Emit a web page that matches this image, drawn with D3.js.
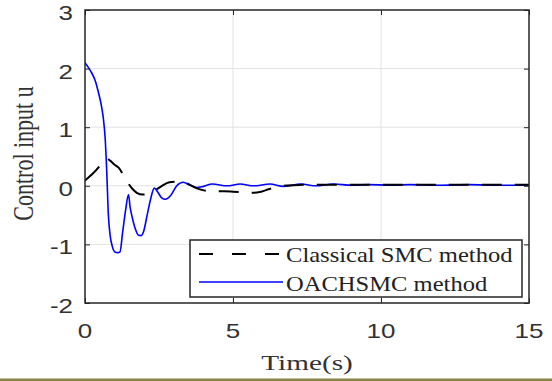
<!DOCTYPE html>
<html>
<head>
<meta charset="utf-8">
<script src="https://cdn.jsdelivr.net/npm/d3@7/dist/d3.min.js"></script>
<style>
  html, body { margin: 0; padding: 0; background: #fff; }
  svg { display: block; }
</style>
</head>
<body>
<svg id="chart" width="552" height="381"></svg>
<script>
// ---- data ----
const xTicks = [0, 5, 10, 15];
const yTicks = [-2, -1, 0, 1, 2, 3];
const seriesNames = ["Classical SMC method", "OACHSMC method"];
const xLabel = "Time(s)";
const yLabel = "Control input u";

const smcT = [0, 0.2, 0.45, 0.6, 0.72, 0.85, 1.0, 1.15, 1.3, 1.45, 1.6, 1.75, 1.95, 2.15, 2.36, 2.6, 2.85, 3.05, 3.3, 3.5, 3.72, 3.95, 4.3, 4.7, 5.0, 5.4, 5.7, 5.95, 6.2, 6.45, 6.7, 7.2, 8, 9, 10, 11, 12, 13, 14, 15];
const smcU = [0.09, 0.18, 0.31, 0.42, 0.47, 0.43, 0.36, 0.3, 0.18, 0.05, -0.05, -0.12, -0.15, -0.13, -0.08, 0.0, 0.06, 0.07, 0.07, 0.03, -0.03, -0.07, -0.095, -0.095, -0.1, -0.11, -0.12, -0.1, -0.06, -0.02, 0.0, 0.015, 0.02, 0.02, 0.02, 0.02, 0.02, 0.02, 0.02, 0.02];

const oaT = [0, 0.1, 0.2, 0.34, 0.45, 0.56, 0.62, 0.68, 0.73, 0.79, 0.85, 0.92, 1.01, 1.1, 1.18, 1.27, 1.37, 1.47, 1.52, 1.6, 1.69, 1.8, 1.9, 1.98, 2.1, 2.22, 2.34, 2.45, 2.58, 2.72, 2.9, 3.1, 3.32, 3.55, 3.77, 4.0, 4.3, 4.8, 5.24, 5.7, 6.25, 6.7, 7.3, 7.8, 8.4, 9.0, 9.6, 10.3, 11, 12, 13, 14, 15];
const oaU = [2.1, 2.03, 1.95, 1.8, 1.6, 1.35, 1.15, 0.82, 0.3, -0.5, -0.85, -1.03, -1.13, -1.14, -1.13, -0.8, -0.42, -0.15, -0.35, -0.55, -0.72, -0.84, -0.85, -0.78, -0.5, -0.22, -0.04, -0.1, -0.2, -0.23, -0.16, 0.0, 0.06, 0.01, -0.03, -0.01, 0.03, 0.0, 0.03, 0.0, 0.03, -0.01, 0.03, 0.0, 0.03, 0.01, 0.02, 0.01, 0.02, 0.01, 0.02, 0.01, 0.01];

// ---- layout ----
const svg = d3.select("#chart");
const L = 85, R = 529, T = 10, B = 303;
const x = d3.scaleLinear().domain([0, 15]).range([L, R]);
const y = d3.scaleLinear().domain([-2, 3]).range([B, T]);
const axisColor = "#262626";
const gridColor = "#e3e3e3";

svg.append("rect").attr("width", 552).attr("height", 381).attr("fill", "#fff");

// grid
const grid = svg.append("g");
grid.selectAll("line.gx").data(xTicks.slice(1, -1)).enter().append("line")
  .attr("x1", d => x(d)).attr("x2", d => x(d)).attr("y1", T).attr("y2", B)
  .attr("stroke", gridColor).attr("stroke-width", 1);
grid.selectAll("line.gy").data(yTicks.slice(1, -1)).enter().append("line")
  .attr("x1", L).attr("x2", R).attr("y1", d => y(d)).attr("y2", d => y(d))
  .attr("stroke", gridColor).attr("stroke-width", 1);

// clip
svg.append("clipPath").attr("id", "clip").append("rect")
  .attr("x", L).attr("y", T).attr("width", R - L).attr("height", B - T);

const line = d3.line().x(d => x(d[0])).y(d => y(d[1])).curve(d3.curveMonotoneX);
const plot = svg.append("g").attr("clip-path", "url(#clip)");

plot.append("path").datum(oaT.map((t, i) => [t, oaU[i]]))
  .attr("d", line).attr("fill", "none").attr("stroke", "#0000ff").attr("stroke-width", 1.6);
plot.append("path").datum(smcT.map((t, i) => [t, smcU[i]]))
  .attr("d", line).attr("fill", "none").attr("stroke", "#000").attr("stroke-width", 2)
  .attr("stroke-dasharray", "20,13");

// axes ticks (inward)
const tickLen = 5;
svg.append("g").attr("transform", `translate(0,${B})`)
  .call(d3.axisBottom(x).tickValues(xTicks).tickSize(-tickLen).tickFormat(""))
  .call(g => { g.select(".domain").remove(); g.selectAll("line").attr("stroke", axisColor); });
svg.append("g").attr("transform", `translate(0,${T})`)
  .call(d3.axisTop(x).tickValues(xTicks).tickSize(-tickLen).tickFormat(""))
  .call(g => { g.select(".domain").remove(); g.selectAll("line").attr("stroke", axisColor); });
svg.append("g").attr("transform", `translate(${L},0)`)
  .call(d3.axisLeft(y).tickValues(yTicks).tickSize(-tickLen).tickFormat(""))
  .call(g => { g.select(".domain").remove(); g.selectAll("line").attr("stroke", axisColor); });
svg.append("g").attr("transform", `translate(${R},0)`)
  .call(d3.axisRight(y).tickValues(yTicks).tickSize(-tickLen).tickFormat(""))
  .call(g => { g.select(".domain").remove(); g.selectAll("line").attr("stroke", axisColor); });

// legend
const lg = svg.append("g");
lg.append("rect").attr("x", 190).attr("y", 240).attr("width", 332).attr("height", 57)
  .attr("fill", "#fff").attr("stroke", axisColor).attr("stroke-width", 1.5);
lg.append("line").attr("x1", 199).attr("x2", 283).attr("y1", 254).attr("y2", 254)
  .attr("stroke", "#000").attr("stroke-width", 2).attr("stroke-dasharray", "14,19");
lg.append("line").attr("x1", 199).attr("x2", 283).attr("y1", 282).attr("y2", 282)
  .attr("stroke", "#0000ff").attr("stroke-width", 1.6);
seriesNames.forEach((name, i) => {
  lg.append("text")
    .attr("transform", `translate(286,${i === 0 ? 261.5 : 290.5}) scale(1.17,1)`)
    .attr("font-family", "'Liberation Serif', 'Times New Roman', serif")
    .attr("font-size", 21).attr("fill", "#222").text(name);
});

// box
svg.append("rect").attr("x", L).attr("y", T).attr("width", R - L).attr("height", B - T)
  .attr("fill", "none").attr("stroke", axisColor).attr("stroke-width", 1.5);

// tick labels
const tickFont = "'Liberation Sans', Arial, sans-serif";
svg.selectAll("text.yt").data(yTicks).enter().append("text")
  .attr("transform", d => `translate(73,${y(d) + 10}) scale(1.3,1)`)
  .attr("text-anchor", "end").attr("font-family", tickFont).attr("font-size", 20)
  .attr("fill", "#333").text(d => d);
svg.selectAll("text.xt").data(xTicks).enter().append("text")
  .attr("transform", d => `translate(${x(d)},338) scale(1.3,1)`)
  .attr("text-anchor", "middle").attr("font-family", tickFont).attr("font-size", 20)
  .attr("fill", "#333").text(d => d);

// axis labels
svg.append("text")
  .attr("transform", `translate(${(L + R) / 2},370) scale(1.33,1)`)
  .attr("text-anchor", "middle").attr("font-family", "'Liberation Serif', 'Times New Roman', serif")
  .attr("font-size", 22).attr("fill", "#333").text(xLabel);
svg.append("text")
  .attr("transform", `translate(33,${(85 + 222) / 2}) scale(1.3,1) rotate(-90)`)
  .attr("text-anchor", "middle").attr("font-family", "'Liberation Serif', 'Times New Roman', serif")
  .attr("font-size", 22).attr("fill", "#333").text(yLabel);

// bottom decorative border
svg.append("rect").attr("x", 0).attr("y", 378.5).attr("width", 552).attr("height", 2.5).attr("fill", "#8c8442");
</script>
</body>
</html>
